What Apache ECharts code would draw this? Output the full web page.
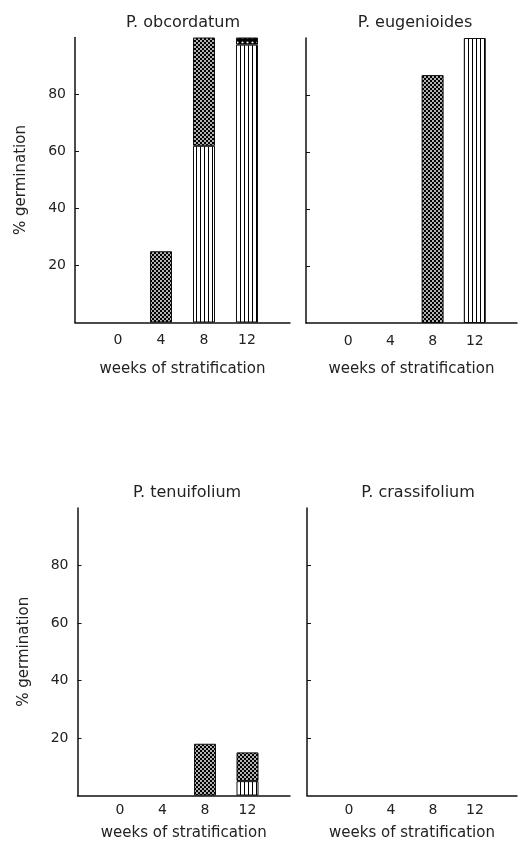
<!DOCTYPE html>
<html>
<head>
<meta charset="utf-8">
<script src="https://cdn.jsdelivr.net/npm/echarts@6/dist/echarts.min.js"></script>
<style>
  html, body { margin: 0; padding: 0; background: #fff; }
  #chart { width: 520px; height: 849px; }
</style>
</head>
<body>
<div id="chart"></div>
<script>
// data (% germination after weeks of cold stratification)
const weeks = ['', '0', '4', '8', '12', ''];
const yTicks = [20, 40, 60, 80];
const species = ['P. obcordatum', 'P. eugenioides', 'P. tenuifolium', 'P. crassifolium'];

// lower part of bar (vertical stripes)
const stripesObcordatum = [null, null, null, 62, 97.5, null];
const stripesEugenioides = [null, null, null, null, 100, null];
const stripesTenuifolium = [null, null, null, null, 5, null];
const stripesCrassifolium = [null, null, null, null, null, null];

// upper part (cross hatched)
const crossObcordatum = [null, null, 25, 38, null, null];
const crossEugenioides = [null, null, null, 87, null, null];
const crossTenuifolium = [null, null, null, 18, 10, null];
const crossCrassifolium = [null, null, null, null, null, null];

// small dotted cap
const dotsObcordatum = [null, null, null, null, 2.5, null];

const FONT = 'DejaVu Sans';
const INK = '#111';

function makeTile(w, h, draw) {
  const c = document.createElement('canvas');
  c.width = w;
  c.height = h;
  draw(c.getContext('2d'));
  return { image: c, repeat: 'repeat' };
}

const crossFill = makeTile(4, 4, ctx => {
  ctx.fillStyle = '#000';
  ctx.fillRect(0, 0, 4, 4);
  ctx.fillStyle = '#fff';
  [[1, 1], [3, 3]].forEach(p => {
    ctx.beginPath();
    ctx.arc(p[0], p[1], 0.95, 0, Math.PI * 2);
    ctx.fill();
  });
});

const stripeFill = makeTile(4, 4, ctx => {
  ctx.fillStyle = '#fff';
  ctx.fillRect(0, 0, 4, 4);
  ctx.fillStyle = '#000';
  ctx.fillRect(0, 0, 1, 4);
});

const dotFill = makeTile(5, 5, ctx => {
  ctx.fillStyle = '#000';
  ctx.fillRect(0, 0, 5, 5);
  ctx.fillStyle = '#fff';
  ctx.beginPath();
  ctx.arc(2.5, 2.5, 1.1, 0, Math.PI * 2);
  ctx.fill();
});

// panel boxes in pixels
const grids = [
  { left: 75, right: 230, top: 37.5, bottom: 526.5 },
  { left: 306, right: 0, top: 38, bottom: 526 },
  { left: 77.5, right: 230, top: 508, bottom: 53.5 },
  { left: 307, right: 0, top: 508, bottom: 53.5 }
];
const titlePos = [[178, 10], [410, 10], [182, 480], [413, 480]];
const xLabelMargin = [11, 11, 8, 8];
const xNameGap = [39, 39, 30, 30];

function xAxisFor(i) {
  return {
    type: 'category', gridIndex: i, data: weeks, boundaryGap: false,
    axisLine: { lineStyle: { color: INK, width: 1.5 } },
    axisTick: { show: false },
    axisLabel: { interval: 0, margin: xLabelMargin[i], fontSize: 14, color: '#222', fontFamily: FONT },
    name: 'weeks of stratification', nameLocation: 'middle', nameGap: xNameGap[i],
    nameTextStyle: { fontSize: 15, color: '#222', fontFamily: FONT }
  };
}

function yAxisFor(i) {
  const left = i % 2 === 0;
  return {
    type: 'value', gridIndex: i, min: 0, max: 100, interval: 20,
    axisLine: { show: true, lineStyle: { color: INK, width: 1.5 } },
    axisTick: { show: true, inside: true, length: 4, customValues: yTicks, lineStyle: { color: INK } },
    axisLabel: { show: left, customValues: yTicks, margin: 9, fontSize: 14, color: '#222', fontFamily: FONT },
    splitLine: { show: false },
    name: left ? '% germination' : '', nameLocation: 'middle', nameGap: 46,
    nameTextStyle: { fontSize: 15, color: '#222', fontFamily: FONT }
  };
}

function barSeries(i, data, fill) {
  return {
    type: 'bar', xAxisIndex: i, yAxisIndex: i, stack: 'g' + i,
    barWidth: 22, data: data, silent: true,
    itemStyle: { color: fill, borderColor: INK, borderWidth: 1 }
  };
}

const stripes = [stripesObcordatum, stripesEugenioides, stripesTenuifolium, stripesCrassifolium];
const cross = [crossObcordatum, crossEugenioides, crossTenuifolium, crossCrassifolium];

const series = [];
for (let i = 0; i < 4; i++) {
  series.push(barSeries(i, stripes[i], stripeFill));
  series.push(barSeries(i, cross[i], crossFill));
}
series.push(barSeries(0, dotsObcordatum, dotFill));

const chart = echarts.init(document.getElementById('chart'), null, { renderer: 'canvas' });
chart.setOption({
  animation: false,
  backgroundColor: '#fff',
  title: species.map((s, i) => ({
    text: s, left: titlePos[i][0], top: titlePos[i][1], textAlign: 'center',
    textStyle: { fontSize: 16, fontWeight: 'normal', color: '#222', fontFamily: FONT }
  })),
  grid: grids,
  xAxis: [0, 1, 2, 3].map(xAxisFor),
  yAxis: [0, 1, 2, 3].map(yAxisFor),
  series: series
});
</script>
</body>
</html>
